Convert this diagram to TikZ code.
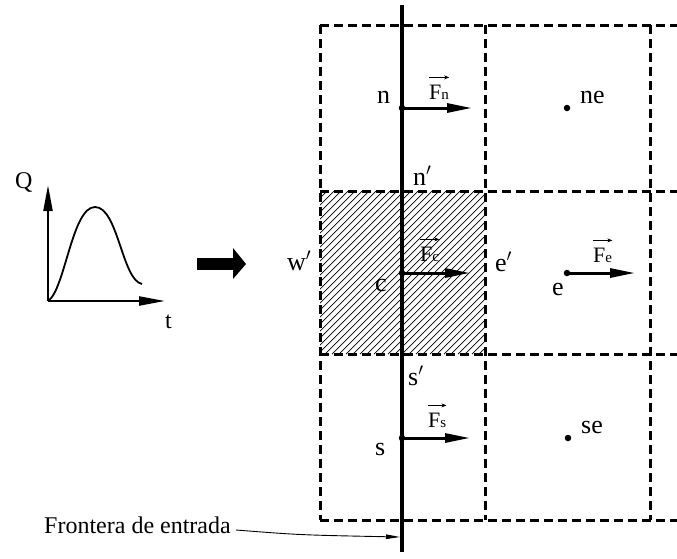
\documentclass[tikz,border=0pt]{standalone}
\usepackage{fontspec}
\setmainfont{Liberation Serif}
\usetikzlibrary{arrows.meta}
\begin{document}
\begin{tikzpicture}[x=1pt,y=-1pt,
  lbl/.style={anchor=base west,inner sep=0pt,font=\fontsize{26}{26}\selectfont},
  flbl/.style={anchor=base west,inner sep=0pt,font=\fontsize{22}{22}\selectfont},
  gridline/.style={line width=3pt,dash pattern=on 9pt off 5pt},
  force/.style={line width=3pt,-{Triangle[length=25pt,width=9pt]}},
  vecarrow/.style={line width=0.6pt,-{Stealth[length=5pt,width=4pt]}},
  dot/.style={circle,fill,inner sep=0pt,minimum size=6.5pt},
  axis/.style={line width=2.2pt,-{Triangle[length=26pt,width=9pt]}}]
\useasboundingbox (0,0) rectangle (677,558);
% hatched cell
\begin{scope}
  \clip (320,191) rectangle (485,354);
  \foreach \i in {0,...,48}
    \draw[line width=0.7pt] ({150+7*\i},354) -- ++(170,-170);
\end{scope}
% dashed grid
\foreach \y in {25,191,354,520}
  \draw[gridline] (320,\y) -- (680,\y);
\foreach \x in {320,485,650}
  \draw[gridline] (\x,25) -- (\x,520);
% boundary line
\coordinate (btop) at (402,5);
\coordinate (bbot) at (402,552);
\draw[line width=3.2pt] (btop) -- (bbot);
% points
\node[dot] (n) at (402,108) {};
\node[dot] (ne) at (567,108) {};
\node[dot] (c) at (402,273) {};
\node[dot] (e) at (567,273) {};
\node[dot] (s) at (402,438) {};
\node[dot] (se) at (568,438) {};
% forces
\coordinate (nt) at (472,108);
\coordinate (ct) at (470,273);
\coordinate (et) at (635,273);
\coordinate (st) at (470,438);
\draw[force] (n.center) -- (nt);
\draw[force] (c.center) -- (ct);
\draw[force] (e.center) -- (et);
\draw[force] (s.center) -- (st);
\node[flbl] (Fn) at (429,99) {F{\fontsize{15}{15}\selectfont n}};
\node[flbl] (Fc) at (420,261) {F{\fontsize{15}{15}\selectfont c}};
\node[flbl] (Fe) at (593,262) {F{\fontsize{15}{15}\selectfont e}};
\node[flbl] (Fs) at (428,427) {F{\fontsize{15}{15}\selectfont s}};
\foreach \f in {Fn,Fc,Fe,Fs}
  \draw[vecarrow] ([yshift=7pt]\f.north west) -- ([yshift=7pt]\f.north east);
% labels
\node[lbl] (ln) at (377,103) {n};
\node[lbl] (lne) at (580,103) {ne};
\node[lbl] (lnp) at (413,185) {n$'$};
\node[lbl] (lwp) at (287,270) {w$'$};
\node[lbl] (lc) at (375,291) {c};
\node[lbl] (lep) at (495,271) {e$'$};
\node[lbl] (le) at (552,295) {e};
\node[lbl] (lsp) at (408,385) {s$'$};
\node[lbl] (ls) at (375,455) {s};
\node[lbl] (lse) at (581,433) {se};
% Frontera
\node[anchor=base west,inner sep=0pt,font=\fontsize{24}{24}\selectfont] (fr) at (44,533) {Frontera de entrada};
\coordinate (frend) at (400,537);
\draw[line width=0.9pt,-{Triangle[length=14pt,width=4.5pt]}] ([xshift=5pt,yshift=3pt]fr.base east) .. controls (300,535) .. (frend);
% hydrograph
\coordinate (O) at (48,301);
\coordinate (ytip) at (48,185);
\coordinate (xtip) at (165,301);
\draw[axis] (O) -- (ytip);
\draw[axis] (O) -- (xtip);
\draw[line width=1.8pt] (O) .. controls (65,290) and (72,207) .. (95,207) .. controls (118,207) and (122,280) .. (142,284);
\node[anchor=base west,inner sep=0pt,font=\fontsize{24}{24}\selectfont] (Q) at (15,188) {Q};
\node[anchor=base west,inner sep=0pt,font=\fontsize{24}{24}\selectfont] (t) at (165,328) {t};
% big arrow
\fill (197,258) rectangle (235,270);
\fill (233,248) -- (246,264) -- (233,279) -- cycle;
\end{tikzpicture}
\end{document}
